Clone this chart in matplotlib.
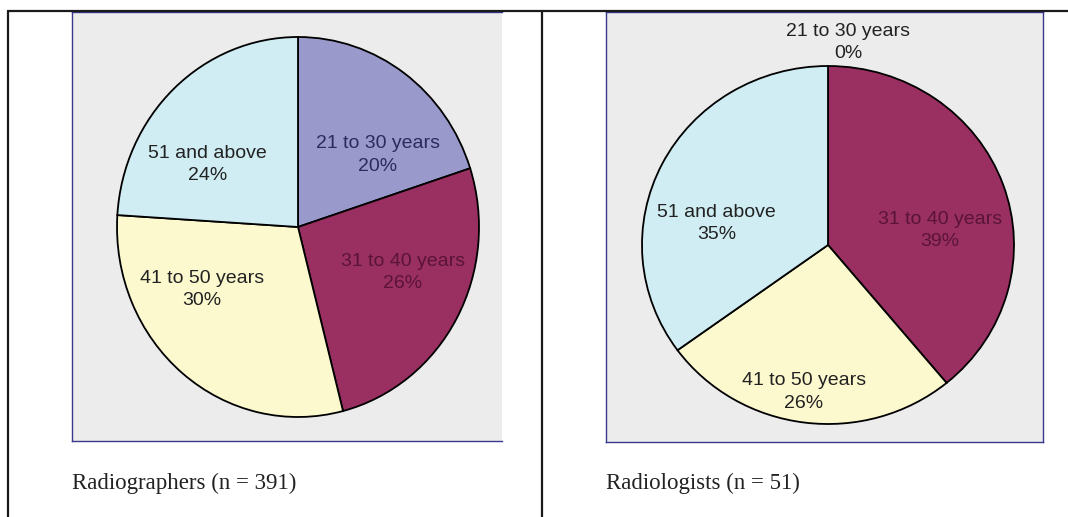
import numpy as np
import matplotlib
matplotlib.use('Agg')
import matplotlib.pyplot as plt

# 데이터
age_groups = ['21 to 30 years', '31 to 40 years', '41 to 50 years', '51 and above']
radiographers_pct = [20, 26, 30, 24]
radiologists_pct = [0, 39, 26, 35]
captions = ['Radiographers (n = 391)', 'Radiologists (n = 51)']

slice_colors = ['#9999cc', '#9a2f62', '#fcf9cf', '#cfedf3']

W, H = 1068, 517
fig = plt.figure(figsize=(W / 100, H / 100), dpi=100)
fig.patch.set_facecolor('white')


def px_axes(x0, y0, x1, y1, **kw):
    # 픽셀 좌표(위쪽 원점) -> figure 비율
    return fig.add_axes([x0 / W, 1 - y1 / H, (x1 - x0) / W, (y1 - y0) / H], **kw)


# 회색 차트 배경 박스
box_color = '#38388c'
for (x0, y0, x1, y1), right_on in [((72, 12, 502, 441), False), ((606, 12, 1043, 442), True)]:
    bg = px_axes(x0, y0, x1, y1)
    bg.set_facecolor('#ececec')
    bg.set_xticks([])
    bg.set_yticks([])
    for side, sp in bg.spines.items():
        sp.set_color(box_color)
        sp.set_linewidth(1.0)
    bg.spines['right'].set_visible(right_on)

# 파이 위치 (타원 외곽 픽셀 박스)
pie_boxes = [(117, 37, 479, 417), (642, 66, 1014, 424)]

# 라벨 위치 (파이 단위 좌표)
label_pos = [
    [(0.44, 0.38), (0.58, -0.24), (-0.53, -0.33), (-0.50, 0.33)],
    [(0.11, 1.13), (0.60, 0.08), (-0.13, -0.82), (-0.60, 0.12)],
]
label_colors = [
    ['#2b2b5c', '#5a1436', '#222222', '#222222'],
    ['#222222', '#5a1436', '#222222', '#222222'],
]

for k, values in enumerate([radiographers_pct, radiologists_pct]):
    ax = px_axes(*pie_boxes[k])
    ax.pie(values, colors=slice_colors, startangle=90, counterclock=False,
           wedgeprops=dict(edgecolor='black', linewidth=1.3))
    ax.set_aspect('auto')
    ax.set_xlim(-1, 1)
    ax.set_ylim(-1, 1)
    ax.axis('off')
    for i, name in enumerate(age_groups):
        lx, ly = label_pos[k][i]
        ax.text(lx, ly, f'{name}\n{values[i]}%', ha='center', va='center',
                fontsize=14, family='Liberation Sans', color=label_colors[k][i],
                linespacing=1.42, clip_on=False)

# 표 테두리 + 캡션
over = fig.add_axes([0, 0, 1, 1], zorder=10)
over.set_xlim(0, W)
over.set_ylim(H, 0)
over.axis('off')
over.patch.set_visible(False)
over.plot([7, W], [11, 11], color='#1a1a1a', linewidth=1.6, solid_capstyle='butt')
for x in [7.5, 542]:
    over.plot([x, x], [11, H], color='#1a1a1a', linewidth=1.6, solid_capstyle='butt')

for x, cap in zip([72, 606], captions):
    over.text(x, 483, cap, ha='left', va='center', fontsize=16.5,
              family='Liberation Serif', color='#222222')

fig.savefig('out.png', dpi=100)
